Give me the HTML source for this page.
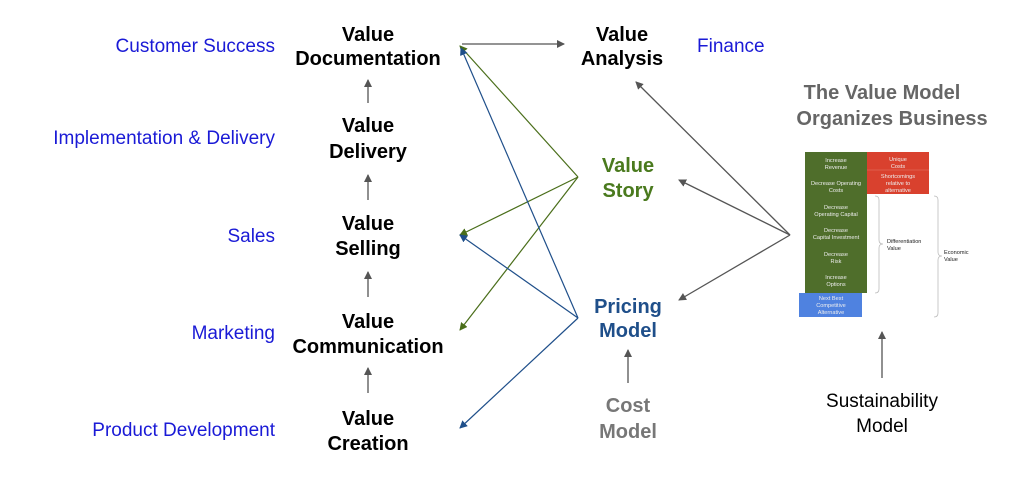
<!DOCTYPE html>
<html><head><style>
body{margin:0;background:#fff;width:1024px;height:476px;overflow:hidden;font-family:"Liberation Sans",Arial,sans-serif}
</style></head><body>
<svg width="1024" height="476" viewBox="0 0 1024 476" xmlns="http://www.w3.org/2000/svg" font-family="Liberation Sans, Arial, sans-serif">
<defs>
<marker id="ag" markerWidth="8" markerHeight="8" refX="7" refY="4" orient="auto" markerUnits="userSpaceOnUse"><path d="M0,0 L8,4 L0,8z" fill="#555"/></marker>
<marker id="agr" markerWidth="8" markerHeight="8" refX="7" refY="4" orient="auto" markerUnits="userSpaceOnUse"><path d="M0,0 L8,4 L0,8z" fill="#4a6e1a"/></marker>
<marker id="ab" markerWidth="8" markerHeight="8" refX="7" refY="4" orient="auto" markerUnits="userSpaceOnUse"><path d="M0,0 L8,4 L0,8z" fill="#1f4f8a"/></marker>
</defs>
<g font-size="19" fill="#1a1ad6" text-anchor="end">
<text x="275" y="52">Customer Success</text>
<text x="275" y="144">Implementation &amp; Delivery</text>
<text x="275" y="242">Sales</text>
<text x="275" y="339">Marketing</text>
<text x="275" y="436">Product Development</text>
<text x="697" y="52" text-anchor="start">Finance</text>
</g>
<g font-size="20" font-weight="bold" fill="#000" text-anchor="middle">
<text x="368" y="41">Value</text><text x="368" y="65">Documentation</text>
<text x="368" y="132">Value</text><text x="368" y="158">Delivery</text>
<text x="368" y="230">Value</text><text x="368" y="255">Selling</text>
<text x="368" y="328">Value</text><text x="368" y="353">Communication</text>
<text x="368" y="425">Value</text><text x="368" y="450">Creation</text>
<text x="622" y="41">Value</text><text x="622" y="65">Analysis</text>
</g>
<g font-size="20" font-weight="bold" text-anchor="middle">
<text x="628" y="172" fill="#4a7a1e">Value</text><text x="628" y="197" fill="#4a7a1e">Story</text>
<text x="628" y="313" fill="#1f4f8a">Pricing</text><text x="628" y="337" fill="#1f4f8a">Model</text>
<text x="628" y="412" fill="#777">Cost</text><text x="628" y="438" fill="#777">Model</text>
<text x="882" y="99" fill="#666">The Value Model</text><text x="892" y="125" fill="#666">Organizes Business</text>
</g>
<g font-size="19" text-anchor="middle" fill="#000">
<text x="882" y="407">Sustainability</text><text x="882" y="432">Model</text>
</g>
<g stroke="#555" stroke-width="1.3" fill="none" marker-end="url(#ag)">
<line x1="462" y1="44" x2="564" y2="44"/>
<line x1="368" y1="103" x2="368" y2="80"/>
<line x1="368" y1="200" x2="368" y2="175"/>
<line x1="368" y1="297" x2="368" y2="272"/>
<line x1="368" y1="393" x2="368" y2="368"/>
<line x1="790" y1="235" x2="636" y2="82"/>
<line x1="790" y1="235" x2="679" y2="180"/>
<line x1="790" y1="235" x2="679" y2="300"/>
<line x1="628" y1="383" x2="628" y2="350"/>
<line x1="882" y1="378" x2="882" y2="332"/>
</g>
<g stroke="#4a6e1a" stroke-width="1.2" fill="none" marker-end="url(#agr)">
<line x1="578" y1="177" x2="460" y2="46"/>
<line x1="578" y1="177" x2="460" y2="235"/>
<line x1="578" y1="177" x2="460" y2="330"/>
</g>
<g stroke="#1f4f8a" stroke-width="1.2" fill="none" marker-end="url(#ab)">
<line x1="578" y1="318" x2="461" y2="48"/>
<line x1="578" y1="318" x2="460" y2="235"/>
<line x1="578" y1="318" x2="460" y2="428"/>
</g>
<rect x="805" y="152" width="62" height="141" fill="#4f6e2b"/>
<rect x="867" y="152" width="62" height="42" fill="#d9412e"/>
<line x1="867" y1="170" x2="929" y2="170" stroke="#e87a6a" stroke-width="0.6"/>
<rect x="799" y="293" width="63" height="24" fill="#4f82e0"/>
<g font-size="5.6" fill="#eee" text-anchor="middle">
<text x="836" y="162">Increase</text><text x="836" y="169">Revenue</text>
<text x="836" y="185">Decrease Operating</text><text x="836" y="192">Costs</text>
<text x="836" y="209">Decrease</text><text x="836" y="216">Operating Capital</text>
<text x="836" y="232">Decrease</text><text x="836" y="239">Capital Investment</text>
<text x="836" y="256">Decrease</text><text x="836" y="263">Risk</text>
<text x="836" y="279">Increase</text><text x="836" y="286">Options</text>
<text x="898" y="161">Unique</text><text x="898" y="168">Costs</text>
<text x="898" y="178">Shortcomings</text><text x="898" y="185">relative to</text><text x="898" y="192">alternative</text>
<text x="831" y="300">Next Best</text><text x="831" y="307">Competitive</text><text x="831" y="314">Alternative</text>
</g>
<g font-size="5.6" fill="#222">
<text x="887" y="243">Differentiation</text><text x="887" y="250">Value</text>
<text x="944" y="254">Economic</text><text x="944" y="261">Value</text>
</g>
<g stroke="#bbb" stroke-width="0.8" fill="none">
<path d="M875,196 Q879,196 879,200 L879,240 Q879,244 883,244 Q879,244 879,248 L879,289 Q879,293 875,293"/>
<path d="M934,196 Q938,196 938,200 L938,252 Q938,256 942,256 Q938,256 938,260 L938,313 Q938,317 934,317"/>
</g>
</svg>
</body></html>
